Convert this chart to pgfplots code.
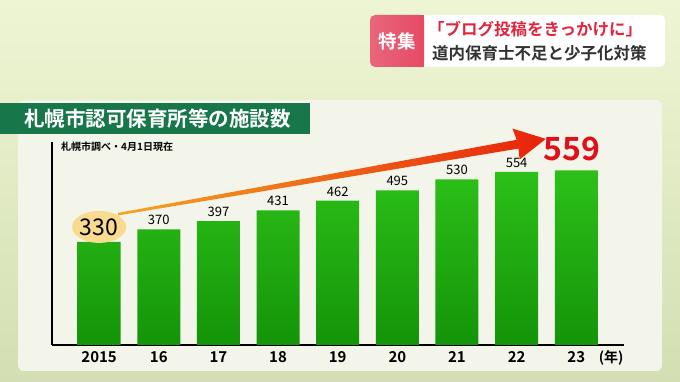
\documentclass[border=0pt]{standalone}
\usepackage{pgfplots}
\pgfplotsset{compat=1.18}
\usepackage{fontspec}
\setmainfont{Noto Sans CJK JP}[BoldFont={Noto Sans CJK JP Bold}]
\definecolor{bgtop}{HTML}{EEF5D4}
\definecolor{bgbot}{HTML}{D3DFB2}
\definecolor{panel}{HTML}{F3F4EA}
\definecolor{titlebar}{HTML}{18774A}
\definecolor{bartop}{HTML}{2CC018}
\definecolor{barbot}{HTML}{149409}
\definecolor{tagred}{HTML}{E64A64}
\definecolor{tagtext}{HTML}{E0263C}
\definecolor{darktext}{HTML}{333333}
\definecolor{arrowor}{HTML}{F5A623}
\definecolor{arrowred}{HTML}{E8220A}
\definecolor{bignum}{HTML}{E0101A}
\definecolor{halo}{HTML}{F8DB8E}
\pgfplotstableread{
x year value
0 2015 330
1 16 370
2 17 397
3 18 431
4 19 462
5 20 495
6 21 530
7 22 554
8 23 559
}\datatable
\begin{document}
\begin{tikzpicture}[x=1pt,y=1pt]
% background
\shade[top color=bgtop, bottom color=bgbot] (0,0) rectangle (680,382);
\begin{scope}[x=1pt,y=-1pt,shift={(0pt,382pt)}]
% panel
\fill[panel, rounded corners=6pt] (18,100) rectangle (662,371);
% title bar
\fill[titlebar] (0,103) rectangle (310,134);
\node[anchor=west, text=white, font=\bfseries\fontsize{20.5}{22}\selectfont, inner sep=0] at (24,118.5) {札幌市認可保育所等の施設数};
% subtitle
\node[anchor=west, text=black, font=\bfseries\fontsize{10}{11}\selectfont, inner sep=0] at (61,147) {札幌市調べ・4月1日現在};
% top tag
\fill[white, rounded corners=5pt] (370,15) rectangle (665,67);
\shade[left color=tagred!85!white, right color=tagred, rounded corners=5pt] (370,15) rectangle (424,67);
\fill[tagred] (418,15) rectangle (424,67);
\node[text=white, font=\bfseries\fontsize{18.5}{20}\selectfont, inner sep=0] at (397,41) {特集};
\node[anchor=west, text=tagtext, font=\bfseries\fontsize{16.5}{18}\selectfont, inner sep=0] at (428,29) {「ブログ投稿をきっかけに」};
\node[anchor=west, text=darktext, font=\bfseries\fontsize{16.5}{18}\selectfont, inner sep=0] at (432,53) {道内保育士不足と少子化対策};
\end{scope}
\begin{axis}[
  at={(52pt,37pt)}, anchor=south west,
  scale only axis, width=572pt, height=203pt,
  xmin=-0.79, xmax=8.8, ymin=0, ymax=650,
  axis x line=bottom, axis y line=left,
  axis line style={black, line width=1.3pt, -},
  ytick=\empty,
  xtick={0,...,8},
  xticklabels={2015,16,17,18,19,20,21,22,23},
  major tick length=0pt,
  xticklabel style={font=\bfseries\fontsize{15}{16}\selectfont, text=black, yshift=-3pt},
  clip=false,
]
\addplot[ybar, bar width=43pt, draw=none, top color=bartop, bottom color=barbot]
  table[x=x, y=value] {\datatable};
% value labels
\node[font=\fontsize{13}{14}\selectfont] at (axis cs:1,370) [above=1pt] {370};
\node[font=\fontsize{13}{14}\selectfont] at (axis cs:2,397) [above=1pt] {397};
\node[font=\fontsize{13}{14}\selectfont] at (axis cs:3,431) [above=1pt] {431};
\node[font=\fontsize{13}{14}\selectfont] at (axis cs:4,462) [above=1pt] {462};
\node[font=\fontsize{13}{14}\selectfont] at (axis cs:5,495) [above=1pt] {495};
\node[font=\fontsize{13}{14}\selectfont] at (axis cs:6,530) [above=1pt] {530};
\node[font=\fontsize{13}{14}\selectfont] at (axis cs:7,554) [above=1pt] {554};
% arrow
\shade[left color=arrowor, right color=arrowred]
  (axis cs:0.32,423) -- (axis cs:7.0,657) -- (axis cs:6.93,693) -- (axis cs:7.49,660)
  -- (axis cs:7.05,594) -- (axis cs:7.03,629) -- (axis cs:0.32,415) -- cycle;
% highlighted first value
\fill[halo] (axis cs:0,378) ellipse [x radius=27pt, y radius=16pt];
\node[font=\fontsize{23}{24}\selectfont] at (axis cs:0,378) {330};
\node[font=\bfseries\fontsize{32}{33}\selectfont, text=bignum] at (axis cs:7.93,627) {559};
\node[font=\bfseries\fontsize{14}{15}\selectfont, anchor=west] at (axis cs:8.32,0) [yshift=-13pt] {(年)};
\end{axis}
\end{tikzpicture}
\end{document}
